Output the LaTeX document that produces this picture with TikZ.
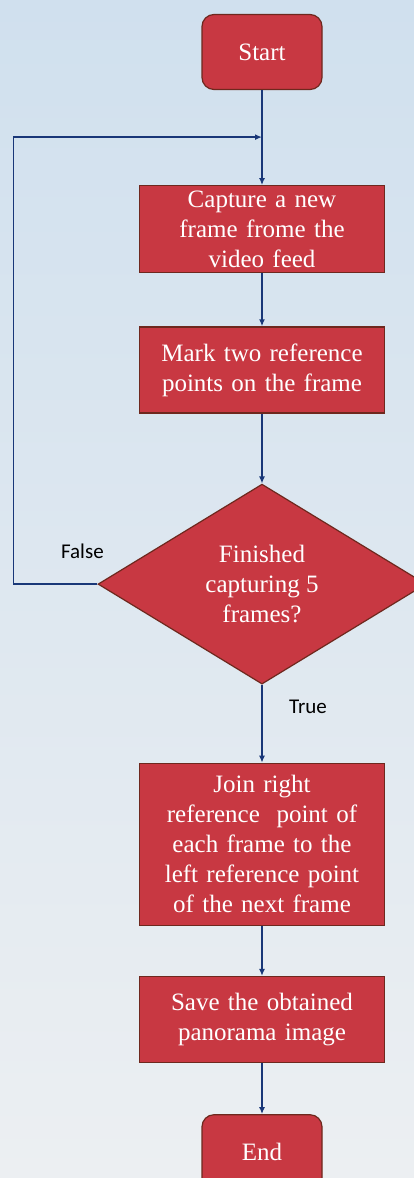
\documentclass[tikz,border=0pt]{standalone}
\usepackage{fontspec}
\setmainfont{Liberation Serif}
\newfontfamily\lblfont{Carlito}
\usetikzlibrary{positioning, shapes.geometric, arrows.meta}
\definecolor{boxred}{RGB}{200,56,66}
\definecolor{edgered}{RGB}{110,40,30}
\definecolor{flowblue}{RGB}{25,55,120}
\definecolor{skytop}{RGB}{208,224,238}
\definecolor{skymid}{RGB}{242,226,230}
\definecolor{skybot}{RGB}{236,239,242}

\begin{document}
\begin{tikzpicture}[x=1pt, y=1pt,
    every node/.style={fill=boxred, draw=edgered, line width=1.2pt, text=white, align=center, inner sep=2pt, font=\fontsize{25}{30}\selectfont},
    term/.style={rectangle, rounded corners=12pt, minimum width=120pt, minimum height=75pt},
    proc/.style={rectangle, text width=240pt, minimum width=245pt, minimum height=86pt},
    test/.style={diamond, minimum width=328pt, minimum height=200pt, inner sep=0pt},
    tag/.style={fill=none, draw=none, text=black, font=\lblfont\fontsize{21}{24}\selectfont},
    flow/.style={draw=flowblue, line width=1.8pt, -{Latex[length=7pt, width=6pt]}}]
                \useasboundingbox (0,0) rectangle (414,-1178);
                \shade[top color=skytop, middle color=skymid, bottom color=skybot] (0,0) rectangle (414,-1178);
                \node[term] (start) at (262,-52) {Start};
                \node[proc, minimum height=87pt, below =95pt of start] (capture) {Capture a new\\frame frome the\\video feed};
                \node[proc, below =53pt of capture] (mark) {Mark two reference\\points on the frame};
                \node[test, below =70pt of mark] (check) {Finished\\capturing 5\\frames?};
                \node[proc, minimum height=162pt, below =78pt of check] (join) {Join right\\reference~ point of\\each frame to the\\left reference point\\of the next frame};
                \node[proc, below =50pt of join] (save) {Save the obtained\\panorama image};
                \node[term, below =51pt of save] (end) {End};
                \foreach \u / \v in {start/capture, capture/mark, mark/check, check/join, join/save, save/end}
                    \draw[flow] (\u) -- (\v);
                \path (start.south) ++(0,-47) coordinate(merge);
                \path (check.west) ++(-84,0) coordinate(back);
                \draw[flow] (check.west) -- (back) |- (merge);
                \path (check.west) ++(-15,33) node[tag] (no) {False};
                \path (check.south) ++(46,-22) node[tag] (yes) {True};
            \end{tikzpicture}
\end{document}
